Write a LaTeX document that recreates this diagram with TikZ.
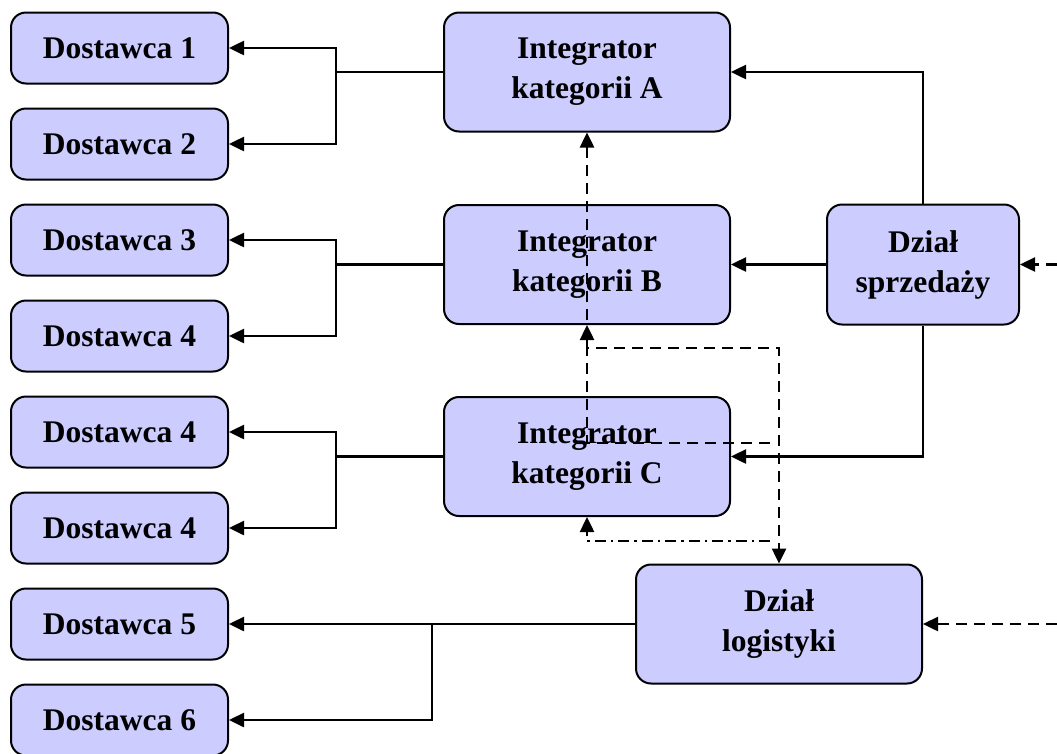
\documentclass[tikz,border=0pt]{standalone}
\usepackage{fontspec}
\setmainfont{Liberation Serif}
\usetikzlibrary{arrows.meta}
\definecolor{boxfill}{RGB}{204,204,255}
\tikzset{
  box/.style={draw=black, line width=2pt, fill=boxfill, rounded corners=15pt,
    font=\fontsize{31.5}{40}\selectfont\bfseries, align=center, inner sep=0pt},
  dbox/.style={box, minimum width=217pt, minimum height=71pt},
  ibox/.style={box, minimum width=286pt, minimum height=119pt},
  tip/.style={},
  conn/.style={line width=2.5pt, -{Triangle[length=15pt,width=14pt]}},
  dconn/.style={conn, dash pattern=on 11pt off 7pt},
}
\begin{document}
\begin{tikzpicture}[x=1pt,y=-1pt]
\useasboundingbox (0,0) rectangle (1057,753);
% suppliers
\node[dbox] (d1) at (119.5,48) {Dostawca 1};
\node[dbox] (d2) at (119.5,144) {Dostawca 2};
\node[dbox] (d3) at (119.5,240) {Dostawca 3};
\node[dbox] (d4) at (119.5,336) {Dostawca 4};
\node[dbox] (d4b) at (119.5,432) {Dostawca 4};
\node[dbox] (d4c) at (119.5,528) {Dostawca 4};
\node[dbox] (d5) at (119.5,624) {Dostawca 5};
\node[dbox] (d6) at (119.5,720) {Dostawca 6};
% integrators
\node[ibox] (ia) at (587,72) {Integrator\\kategorii A};
\node[ibox] (ib) at (587,264.5) {Integrator\\kategorii B};
\node[ibox] (ic) at (587,456.5) {Integrator\\kategorii C};
\node[box, minimum width=192pt, minimum height=120pt] (s) at (923,264.5) {Dział\\sprzedaży};
\node[ibox] (l) at (779,624) {Dział\\logistyki};
% junctions
\coordinate (ja) at (336,72);
\coordinate (jb) at (336,264.5);
\coordinate (jc) at (336,456.5);
\coordinate (jl) at (432,624);
\draw[line width=2.5pt] (ia.west) -- (ja);
\draw[conn] (ja) |- (d1.east);
\draw[conn] (ja) |- (d2.east);
\draw[line width=2.5pt] (ib.west) -- (jb);
\draw[conn] (jb) |- (d3.east);
\draw[conn] (jb) |- (d4.east);
\draw[line width=2.5pt] (ic.west) -- (jc);
\draw[conn] (jc) |- (d4b.east);
\draw[conn] (jc) |- (d4c.east);
\draw[conn] (l.west) -- (d5.east);
\draw[conn] (jl) |- (d6.east);
% sales
\draw[conn] (s.north) |- (ia.east);
\draw[conn] (s.west) -- (ib.east);
\draw[conn] (s.south) |- (ic.east);
% external inputs
\coordinate (es) at (1057,264.5);
\coordinate (el) at (1057,624);
\draw[dconn] (es) -- (s.east);
\draw[dconn] (el) -- (l.east);
% dashed internal
\coordinate (m1) at (779,348);
\coordinate (s2) at (770,443);
\coordinate (s3) at (770,541);
\draw[dconn, {Triangle[length=15pt,width=14pt]}-{Triangle[length=15pt,width=14pt]}] (ib.south) |- (m1) -- (l.north);
\draw[dconn] (s2) -| (ia.south);
\draw[conn, dash pattern=on 11pt off 5pt on 2.5pt off 5pt] (s3) -| (ic.south);
\end{tikzpicture}
\end{document}
